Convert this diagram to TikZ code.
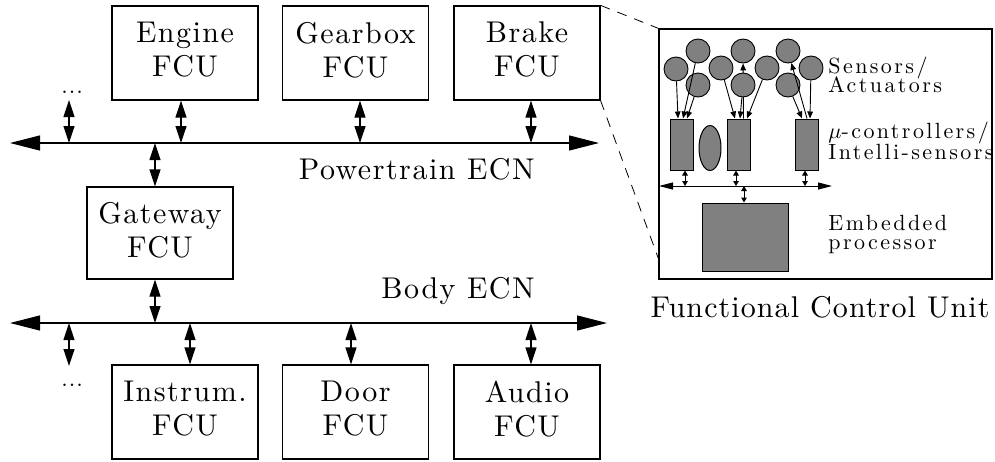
\documentclass[tikz,border=0pt]{standalone}
\usetikzlibrary{arrows.meta,backgrounds,shapes.geometric}
\font\mainfnt="[lmroman10-regular]:letterspace=5;mapping=tex-text" at 15pt
\font\fcufnt="[lmroman10-regular]:letterspace=3.6;mapping=tex-text" at 15pt
\font\panelfnt="[lmroman10-regular]:letterspace=11;mapping=tex-text" at 11pt
\begin{document}
\begin{tikzpicture}[x=0.5pt,y=-0.5pt,
  fcu/.style={draw, line width=0.6pt, minimum width=73pt, minimum height=47pt, inner sep=0pt,
    align=center, font={\fontsize{15}{17}\selectfont\mainfnt}, text depth=3.5pt},
  bus/.style={line width=0.6pt, {Triangle[length=15pt,width=7.5pt]}-{Triangle[length=15pt,width=7.5pt]}},
  link/.style={line width=0.6pt, {Triangle[length=8.5pt,width=5.5pt]}-{Triangle[length=8.5pt,width=5.5pt]}},
  ibus/.style={line width=0.5pt, {Triangle[length=7pt,width=3.5pt]}-{Triangle[length=7pt,width=3.5pt]}},
  ilink/.style={line width=0.5pt, {Triangle[length=2.5pt,width=2.8pt]}-{Triangle[length=2.5pt,width=2.8pt]}},
  sarrow/.style={line width=0.45pt, -{Triangle[length=3.5pt,width=2.8pt]}},
  lbl/.style={font={\fontsize{15}{17}\selectfont\mainfnt}, inner sep=0pt},
  plbl/.style={font={\fontsize{11}{12}\selectfont\panelfnt}, inner sep=0pt, anchor=base west},
  dotsty/.style={font=\fontsize{15}{17}\selectfont, inner sep=0pt, anchor=base},
  sens/.style={circle, draw, fill=gray, minimum size=12pt, inner sep=0pt, line width=0.45pt},
  gbox/.style={draw, fill=gray, inner sep=0pt, line width=0.5pt},
  zoomline/.style={line width=0.4pt, dash pattern=on 5pt off 4pt}
]
\useasboundingbox (0,0) rectangle (995,461);

% FCU boxes
\node[fcu] (engine) at (185,53) {Engine\\FCU};
\node[fcu] (gearbox) at (355.5,53) {Gearbox\\FCU};
\node[fcu] (brake) at (527,53) {Brake\\FCU};
\node[fcu, minimum height=46pt] (gateway) at (160,233) {Gateway\\FCU};
\node[fcu] (instrum) at (185,412) {Instrum.\\FCU};
\node[fcu] (door) at (355.5,412) {Door\\FCU};
\node[fcu] (audio) at (527,412) {Audio\\FCU};

% buses
\coordinate (pL) at (10,143);
\coordinate (pR) at (599,143);
\coordinate (bL) at (10,323);
\coordinate (bR) at (607,323);
\draw[bus] (pL) -- (pR);
\draw[bus] (bL) -- (bR);
\node[lbl, anchor=base east] (ptlabel) at (535,179) {Powertrain ECN};
\node[lbl, anchor=base east] (bodylabel) at (535,298) {Body ECN};

% dots
\node[dotsty] (dtop) at (72,93) {...};
\node[dotsty] (dbot) at (72,386) {...};

% links
\draw[link] ([xshift=-1.5pt,yshift=-3.5pt]dtop.base) -- ([xshift=-1.5pt]dtop.base |- pL);
\draw[link] ([xshift=-2pt]engine.south) -- ([xshift=-2pt]engine.south |- pL);
\draw[link] ([xshift=2.25pt]gearbox.south) -- ([xshift=2.25pt]gearbox.south |- pL);
\draw[link] ([xshift=2pt]brake.south) -- ([xshift=2pt]brake.south |- pL);
\draw[link] ([xshift=-2.5pt]gateway.north |- pL) -- ([xshift=-2.5pt]gateway.north);
\draw[link] ([xshift=-2.5pt]gateway.south) -- ([xshift=-2.5pt]gateway.south |- bL);
\draw[link] ([xshift=-1.5pt]dbot.base |- bL) -- ([xshift=-1.5pt,yshift=10pt]dbot.base);
\draw[link] ([xshift=2.5pt]instrum.north |- bL) -- ([xshift=2.5pt]instrum.north);
\draw[link] ([xshift=-2.25pt]door.north |- bL) -- ([xshift=-2.25pt]door.north);
\draw[link] ([xshift=2pt]audio.north |- bL) -- ([xshift=2pt]audio.north);

% Functional control unit panel
\node[draw, line width=0.6pt, minimum width=166.5pt, minimum height=125pt, inner sep=0pt] (panel) at (825.5,154) {};
\draw[zoomline] (brake.north east) -- (panel.north west);
\draw[zoomline] (brake.south east) -- ([yshift=10.5pt]panel.south west);
\node[inner sep=0pt, font={\fontsize{15}{17}\selectfont\fcufnt}, anchor=base] (fculabel) at (820,317) {Functional Control Unit};

% sensors / actuators
\node[sens] (s1) at (676,69) {};
\node[sens] (s2) at (698,51) {};
\node[sens] (s3) at (698,85) {};
\node[sens] (s4) at (721,68) {};
\node[sens] (s5) at (743,51) {};
\node[sens] (s6) at (743,85) {};
\node[sens] (s7) at (767,68) {};
\node[sens] (s8) at (788,51) {};
\node[sens] (s9) at (788,85) {};
\node[sens] (s10) at (811,68) {};

% micro-controllers
\node[gbox, minimum width=11.5pt, minimum height=25.5pt] (mc1) at (682,144.5) {};
\node[gbox, ellipse, minimum width=11pt, minimum height=22.5pt] (ell) at (710,148) {};
\node[gbox, minimum width=11.5pt, minimum height=25.5pt] (mc2) at (738.5,144.5) {};
\node[gbox, minimum width=11.5pt, minimum height=25.5pt] (mc3) at (806.5,144.5) {};

% embedded processor
\node[gbox, minimum width=43pt, minimum height=34pt] (proc) at (745,237) {};

% sensor arrows
\draw[sarrow] (s1) -- ([xshift=-2pt]mc1.north);
\draw[sarrow] (s2) -- ([xshift=0.5pt]mc1.north);
\draw[sarrow] (s3) -- ([xshift=2.5pt]mc1.north);
\draw[sarrow] (s4) -- ([xshift=-1.75pt]mc2.north);
\draw[sarrow] (s6) -- ([xshift=0.75pt]mc2.north);
\begin{scope}[on background layer]
\draw[sarrow] ([xshift=2.5pt]mc2.north) -- (s5);
\end{scope}
\draw[sarrow] (s7) -- ([xshift=4.25pt]mc2.north);
\draw[sarrow] ([xshift=0.25pt]mc3.north) -- (s8);
\draw[sarrow] (s9) -- ([xshift=-2.25pt]mc3.north);
\draw[sarrow] (s10) -- ([xshift=1.75pt]mc3.north);

% inner bus
\coordinate (iL) at (659,186);
\coordinate (iR) at (832,186);
\draw[ibus] (iL) -- (iR);
\draw[ilink] ([xshift=1.5pt]mc1.south) -- ([xshift=1.5pt]mc1.south |- iL);
\draw[ilink] ([xshift=-1.25pt]mc2.south) -- ([xshift=-1.25pt]mc2.south |- iL);
\draw[ilink] ([xshift=-0.75pt]mc3.south) -- ([xshift=-0.75pt]mc3.south |- iL);
\draw[ilink] ([xshift=-0.5pt]proc.north |- iL) -- ([xshift=-0.5pt]proc.north);

% panel labels
\node[plbl] (t1) at (828,73) {Sensors/};
\node[plbl] (t2) at (828,92.5) {Actuators};
\node[plbl] (t3) at (828,138.5) {$\mu$-controllers/};
\node[plbl] (t4) at (828,159) {Intelli-sensors};
\node[plbl] (t5) at (828,230) {Embedded};
\node[plbl] (t6) at (828,249.5) {processor};
\end{tikzpicture}
\end{document}
